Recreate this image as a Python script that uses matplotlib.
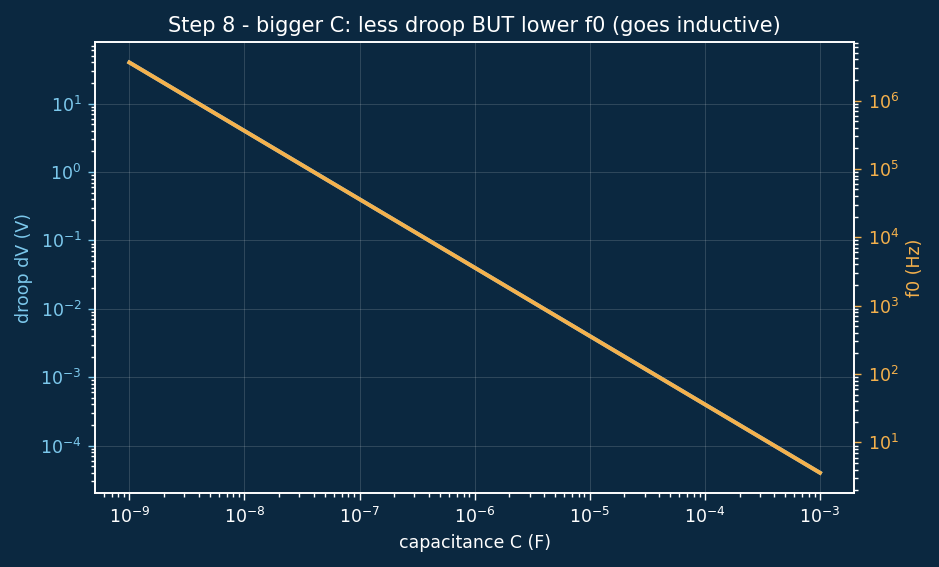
import numpy as np
import matplotlib.pyplot as plt

BG     = '#0b2840'
BLUE   = '#7cc8ec'
ORANGE = '#f5b14c'

cap   = [1e-9, 1e-8, 1e-7, 1e-6, 1e-5, 1e-4, 1e-3]
droop = [40.0, 4.0, 0.4, 0.04, 4e-3, 4e-4, 4e-5]
f0    = [3.6e6, 3.6e5, 3.6e4, 3.6e3, 360.0, 36.0, 3.6]

fig, ax = plt.subplots(figsize=(9.39, 5.67), dpi=100)
fig.patch.set_facecolor(BG)
ax.set_facecolor(BG)

ax.loglog(cap, droop, color=BLUE, lw=2.8)
ax.set_xlabel('capacitance C (F)', color='white', fontsize=12.5, labelpad=5)
ax.set_ylabel('droop dV (V)', color=BLUE, fontsize=12.5, labelpad=5)
ax.set_title('Step 8 - bigger C: less droop BUT lower f0 (goes inductive)',
             color='white', fontsize=15, pad=7.5)
ax.grid(True, which='major', color='white', alpha=0.15, lw=0.7)

ax2 = ax.twinx()
ax2.set_yscale('log')
ax2.plot(cap, f0, color=ORANGE, lw=2.8)
ax2.set_ylabel('f0 (Hz)', color=ORANGE, fontsize=12.5, labelpad=5)

for a in (ax, ax2):
  for s in a.spines.values():
    s.set_color('white')
    s.set_linewidth(1.2)
  a.tick_params(which='both', colors='white', labelsize=12.5, width=1)
  a.tick_params(which='major', length=5, pad=4.5)
  a.tick_params(which='minor', length=3)
ax.tick_params(axis='y', which='major', colors=BLUE)
ax2.tick_params(axis='y', which='major', colors=ORANGE)

fig.subplots_adjust(left=0.101, right=0.91, top=0.926, bottom=0.13)
fig.savefig('out.png', facecolor=BG)
